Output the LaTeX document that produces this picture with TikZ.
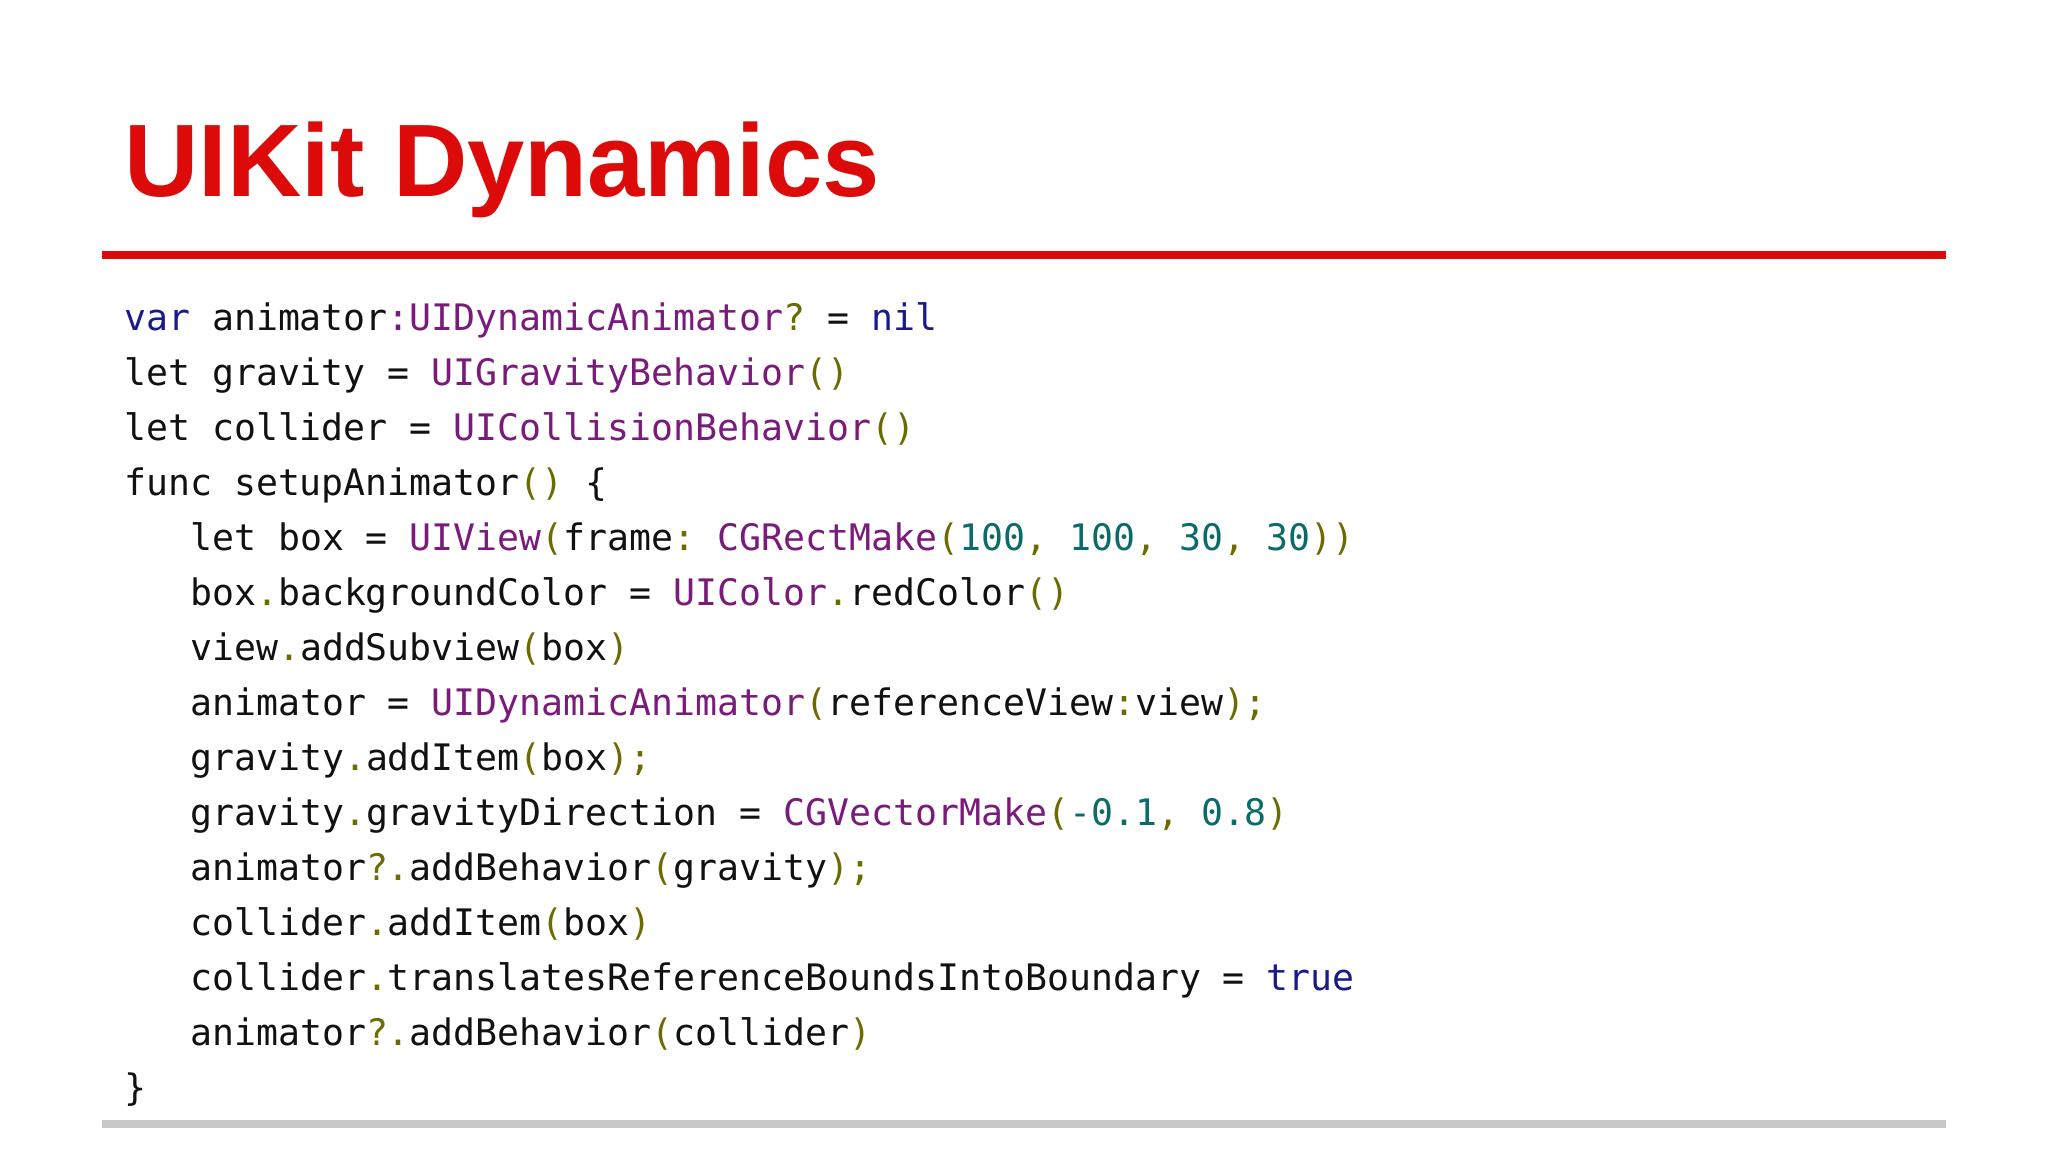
\documentclass[tikz,border=0pt]{standalone}
\usepackage{fontspec}
\setmainfont{Liberation Sans}
\setmonofont{DejaVu Sans Mono}
\definecolor{ttl}{HTML}{DD0A0A}
\definecolor{kw}{HTML}{1A1A8C}
\definecolor{ty}{HTML}{7A1A7A}
\definecolor{pu}{HTML}{6B6B00}
\definecolor{nu}{HTML}{0B6B6B}
\definecolor{tx}{HTML}{111111}
\newcommand{\ck}[1]{\textcolor{kw}{#1}}
\newcommand{\ct}[1]{\textcolor{ty}{#1}}
\newcommand{\cpp}[1]{\textcolor{pu}{#1}}
\newcommand{\cnn}[1]{\textcolor{nu}{#1}}
\begin{document}
\begin{tikzpicture}[x=1pt,y=-1pt,
  code/.style={anchor=base west,inner sep=0pt,font=\fontsize{36.5}{40}\ttfamily,text=tx}]
\useasboundingbox (0,0) rectangle (2048,1152);
\fill[white] (0,0) rectangle (2048,1152);
\node[anchor=base west,inner sep=0pt,text=ttl,font=\fontsize{103}{114}\bfseries] (title) at (124,196) {UIKit Dynamics};
\draw[ttl,line width=8pt] (102,255) -- (1946,255);
\draw[black!22,line width=8pt] (102,1124) -- (1946,1124);
\node[code] (l0) at (124,330) {\ck{var} animator\ct{:UIDynamicAnimator}\cpp{?} = \ck{nil}};
\node[code] (l1) at (124,385) {let gravity = \ct{UIGravityBehavior}\cpp{()}};
\node[code] (l2) at (124,440) {let collider = \ct{UICollisionBehavior}\cpp{()}};
\node[code] (l3) at (124,495) {func setupAnimator\cpp{()} \{};
\node[code] (l4) at (190,550) {let box = \ct{UIView}\cpp{(}frame\cpp{:} \ct{CGRectMake}\cpp{(}\cnn{100}\cpp{,} \cnn{100}\cpp{,} \cnn{30}\cpp{,} \cnn{30}\cpp{))}};
\node[code] (l5) at (190,605) {box\cpp{.}backgroundColor = \ct{UIColor}\cpp{.}redColor\cpp{()}};
\node[code] (l6) at (190,660) {view\cpp{.}addSubview\cpp{(}box\cpp{)}};
\node[code] (l7) at (190,715) {animator = \ct{UIDynamicAnimator}\cpp{(}referenceView\cpp{:}view\cpp{);}};
\node[code] (l8) at (190,770) {gravity\cpp{.}addItem\cpp{(}box\cpp{);}};
\node[code] (l9) at (190,825) {gravity\cpp{.}gravityDirection = \ct{CGVectorMake}\cpp{(}\cnn{-0.1}\cpp{,} \cnn{0.8}\cpp{)}};
\node[code] (l10) at (190,880) {animator\cpp{?.}addBehavior\cpp{(}gravity\cpp{);}};
\node[code] (l11) at (190,935) {collider\cpp{.}addItem\cpp{(}box\cpp{)}};
\node[code] (l12) at (190,990) {collider\cpp{.}translatesReferenceBoundsIntoBoundary = \ck{true}};
\node[code] (l13) at (190,1045) {animator\cpp{?.}addBehavior\cpp{(}collider\cpp{)}};
\node[code] (l14) at (124,1100) {\}};
\end{tikzpicture}
\end{document}
